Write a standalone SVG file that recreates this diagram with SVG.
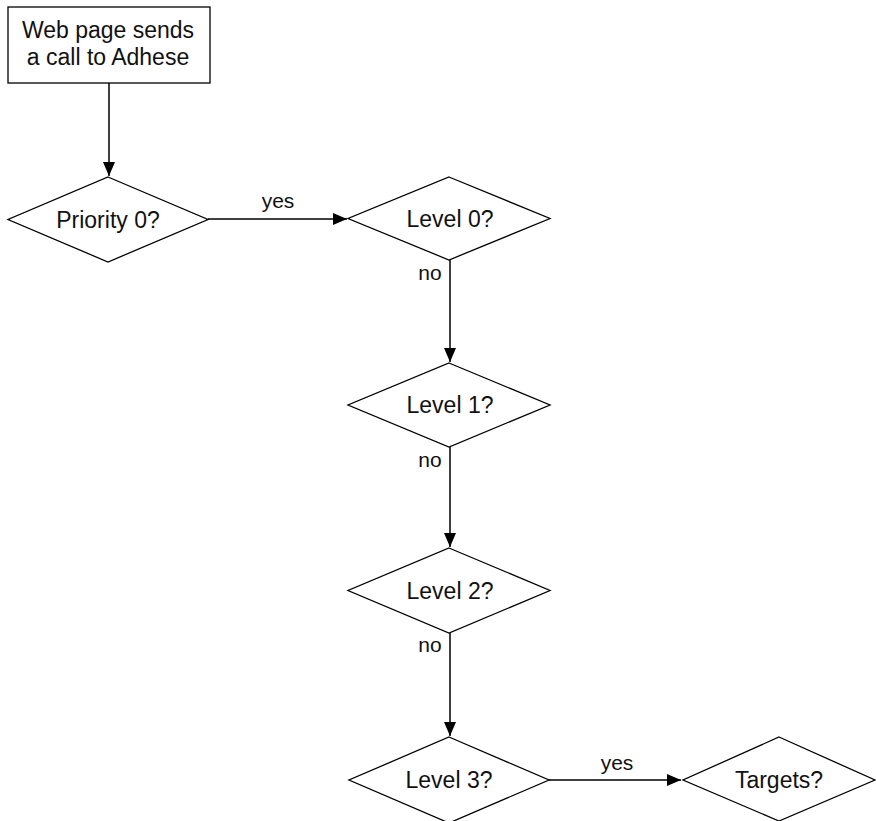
<svg xmlns="http://www.w3.org/2000/svg" width="876" height="821" viewBox="0 0 876 821">
<defs>
<style>
.shape{fill:#fff;stroke:#000;stroke-width:1.3}
.t{font-family:"Liberation Sans",Arial,sans-serif;font-size:23px;fill:#111;text-anchor:middle}
.lbl{font-family:"Liberation Sans",Arial,sans-serif;font-size:21px;fill:#111;text-anchor:middle}
.edge{fill:none;stroke:#000;stroke-width:1.5}
</style>
<marker id="arr" viewBox="0 0 14 12" refX="14" refY="6" markerWidth="14" markerHeight="12" markerUnits="userSpaceOnUse" orient="auto">
<path d="M0,0 L14,6 L0,12 z" fill="#000"/>
</marker>
</defs>
<rect width="876" height="821" fill="#fff"/>
<g id="edges">
<path class="edge" d="M109,83 V176" marker-end="url(#arr)"/>
<path class="edge" d="M208,219 H347" marker-end="url(#arr)"/>
<path class="edge" d="M450,260 V362" marker-end="url(#arr)"/>
<path class="edge" d="M450,447 V547" marker-end="url(#arr)"/>
<path class="edge" d="M450,633 V736" marker-end="url(#arr)"/>
<path class="edge" d="M549,780 H681" marker-end="url(#arr)"/>
<text class="lbl" x="278" y="208">yes</text>
<text class="lbl" x="430" y="280">no</text>
<text class="lbl" x="430" y="467">no</text>
<text class="lbl" x="430" y="652">no</text>
<text class="lbl" x="617" y="770">yes</text>
</g>
<g id="start">
<rect class="shape" x="8" y="7" width="202" height="76"/>
<text class="t" x="108" y="38">Web page sends</text>
<text class="t" x="108" y="65">a call to Adhese</text>
</g>
<g id="priority0">
<polygon class="shape" points="108,177 208,219.5 108,262 8,219.5"/>
<text class="t" x="108" y="228">Priority 0?</text>
</g>
<g id="level0">
<polygon class="shape" points="449,177 550,218.5 449,260 348,218.5"/>
<text class="t" x="450" y="227">Level 0?</text>
</g>
<g id="level1">
<polygon class="shape" points="449,363 550,405 449,447 348,405"/>
<text class="t" x="450" y="413">Level 1?</text>
</g>
<g id="level2">
<polygon class="shape" points="449,548 550,590.5 449,633 348,590.5"/>
<text class="t" x="450" y="599">Level 2?</text>
</g>
<g id="level3">
<polygon class="shape" points="449,737 549,780 449,823 349,780"/>
<text class="t" x="449" y="788">Level 3?</text>
</g>
<g id="targets">
<polygon class="shape" points="779,737 875,780 779,821 683,780"/>
<text class="t" x="779" y="788">Targets?</text>
</g>
</svg>
